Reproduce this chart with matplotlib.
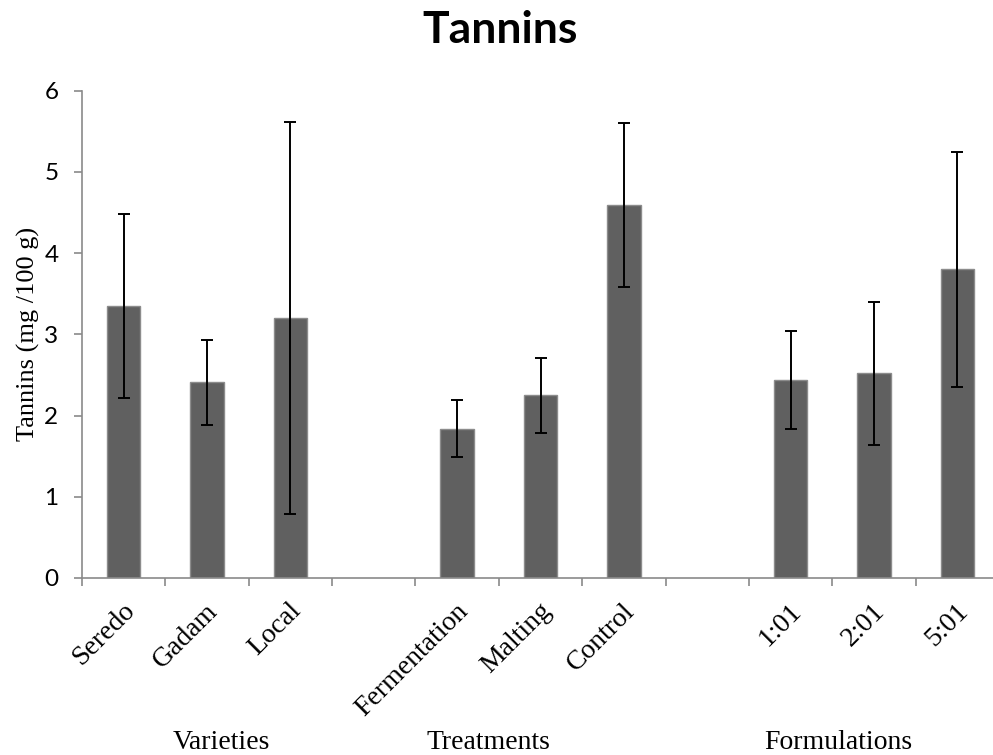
import numpy as np
import matplotlib
matplotlib.use('Agg')
import matplotlib.pyplot as plt
import matplotlib.transforms as mtransforms

# Tannin content per sample (mg/100 g), with standard deviations
groups = ["Varieties", "Treatments", "Formulations"]
group_sizes = [3, 3, 3]
labels = ["Seredo", "Gadam", "Local",
          "Fermentation", "Malting", "Control",
          "1:01", "2:01", "5:01"]
values = [3.35, 2.41, 3.20, 1.84, 2.25, 4.59, 2.44, 2.52, 3.80]
errors = [1.13, 0.52, 2.41, 0.355, 0.46, 1.01, 0.605, 0.88, 1.445]
yticks = [0, 1, 2, 3, 4, 5, 6]

# bars of a group sit side by side, one empty slot between groups
positions = []
start = 0
for n in group_sizes:
    positions.extend(range(start, start + n))
    start += n + 1
n_slots = start - 1

grey_axis = '#8a8a8a'
fig = plt.figure(figsize=(9.93, 7.55), dpi=100)
ax = fig.add_axes([82 / 993, 1 - 578 / 755, 917 / 993, (578 - 90.7) / 755])

ax.bar(positions, values, width=0.4, color='#606060', edgecolor='#8c8c8c',
       linewidth=1.0, zorder=2)
ax.errorbar(positions, values, yerr=errors, fmt='none', ecolor='black',
            elinewidth=1.4, capsize=4.3, capthick=1.4, zorder=3)

ax.set_xlim(-0.5, n_slots - 0.5)
ax.set_ylim(0, 6)

for side in ['top', 'right']:
    ax.spines[side].set_visible(False)
for side in ['left', 'bottom']:
    ax.spines[side].set_color(grey_axis)
    ax.spines[side].set_linewidth(1.2)

ax.set_yticks(yticks)
ax.set_yticklabels([str(v) for v in yticks], fontfamily='Lato', fontsize=17.5)
ax.tick_params(axis='y', direction='out', length=6, width=1.2,
               color=grey_axis, pad=11)

# boundary ticks carry no text, labels go on the bar centres
ax.set_xticks(np.arange(-0.5, n_slots, 1))
ax.set_xticklabels([])
ax.tick_params(axis='x', which='major', direction='out', length=6,
               width=1.2, color=grey_axis)
ax.set_xticks(positions, minor=True)
ax.set_xticklabels(labels, minor=True, rotation=45, ha='right', va='center',
                   rotation_mode='anchor', fontfamily='Liberation Serif',
                   fontsize=20)
ax.tick_params(axis='x', which='minor', length=0, pad=21)
shift = mtransforms.ScaledTranslation(5 / 72, 0, fig.dpi_scale_trans)
for lab in ax.get_xticklabels(minor=True):
    lab.set_transform(lab.get_transform() + shift)

ax.set_ylabel("Tannins (mg /100 g)", fontfamily='Liberation Serif',
              fontsize=19)
ax.yaxis.set_label_coords(40 / 993, 1 - 334 / 755, transform=fig.transFigure)

group_x = [221, 488, 838]
for name, gx in zip(groups, group_x):
    fig.text(gx / 993, 1 - 749 / 755, name, ha='center', va='baseline',
             fontfamily='Liberation Serif', fontsize=20)

fig.text(500 / 993, 1 - 43 / 755, "Tannins", ha='center', va='baseline',
         fontfamily='Lato', fontweight='bold', fontsize=32)

fig.savefig('out.png', dpi=100, facecolor='white')
plt.close('all')
